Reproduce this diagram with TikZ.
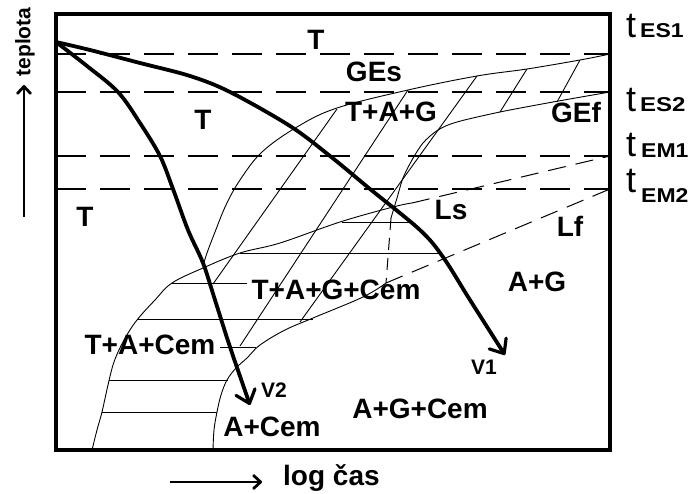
\documentclass[tikz,border=0pt]{standalone}
\usepackage{fontspec}
\usepackage{graphicx}
\setmainfont{Liberation Sans}
\usetikzlibrary{arrows.meta}
\begin{document}
\begin{tikzpicture}[x=1pt,y=-1pt,
  lbl/.style={font=\fontsize{28}{30}\selectfont\bfseries, inner sep=0pt},
  vlbl/.style={font=\fontsize{21}{23}\selectfont\bfseries, inner sep=0pt},
  tlbl/.style={font=\fontsize{36}{37}\selectfont, inner sep=0pt, anchor=base west},
  sublbl/.style={font=\fontsize{20}{22}\selectfont\bfseries, inner sep=0pt, anchor=base west},
  thinln/.style={line width=0.9pt},
  hdash/.style={line width=1.2pt, dash pattern=on 30pt off 14pt},
  sdash/.style={line width=1pt, dash pattern=on 18pt off 10pt},
  vdash/.style={line width=1pt, dash pattern=on 12pt off 8pt},
  heavy/.style={line width=3.8pt, line cap=round, line join=round,
    -{Straight Barb[length=12pt,width=20pt,line width=3.2pt,round]}},
  axarrow/.style={line width=2.8pt,
    -{Straight Barb[length=7pt,width=13pt,line width=2.8pt,round]}},
]
\useasboundingbox (0,0) rectangle (697,494);
\fill[white] (0,0) rectangle (697,494);

% temperature levels (dashed)
\draw[hdash] (56,54) -- (610,54);
\draw[hdash] (56,92) -- (610,92);
\draw[hdash] (56,156) -- (610,156);
\draw[hdash] (56,189) -- (610,189);

% GEs curve
\draw[thinln] plot[smooth, tension=0.6] coordinates {(610,54) (580,60) (527,69) (477,76) (408,90) (337,108) (297,127) (262,152) (240,180) (226,205) (215,232) (207,253) (203,266)};
% GEf curve
\draw[thinln] plot[smooth, tension=0.5] coordinates {(610,92) (553,102) (500,112) (457,122) (438,130) (423,143) (412,160) (403,178) (397,198) (391,218)};
\draw[vdash] (391,218) -- (386,283);
% Ls curve
\draw[thinln] plot[smooth, tension=0.6] coordinates {(92,450) (97,430) (102,412) (108,385) (114,362) (124,340) (137,320) (155,300) (172,283) (203,268) (240,253) (280,243) (340,222) (393,207) (412,203)};
\draw[sdash] (412,203) -- (610,156);
% Lf curve
\draw[thinln] plot[smooth, tension=0.6] coordinates {(213,450) (214,430) (217,412) (221,395) (227,380) (236,368) (247,358) (260,345) (285,330) (313,318) (363,297) (386,283)};
\draw[sdash] (386,283) -- (610,189);

% diagonal hatching
\draw[thinln] (580,60) -- (557,102);
\draw[thinln] (527,69) -- (500,112);
\draw[thinln] (477,76) -- (300,322);
\draw[thinln] (408,90) -- (240,346);
\draw[thinln] (337,109) -- (213,284);

% horizontal hatching
\draw[thinln] (342,222) -- (411,222);
\draw[thinln] (240,253) -- (441,253);
\draw[thinln] (172,283) -- (247,283);
\draw[thinln] (137,319) -- (313,319);
\draw[thinln] (220,347) -- (256,347);
\draw[thinln] (109,380) -- (228,380);
\draw[thinln] (102,412) -- (217,412);

% cooling curves
\draw[heavy] plot[smooth, tension=0.55] coordinates {(56,42) (90,50) (140,63) (190,76) (230,92) (290,126) (330,156) (370,189) (420,230) (443,257) (470,300) (505,355)};
\draw[heavy] plot[smooth, tension=0.55] coordinates {(56,42) (87,66) (118,92) (140,123) (160,156) (173,189) (188,230) (203,263) (215,300) (230,347) (250,405)};

% frame
\draw[line width=3.8pt] (56,14) rectangle (610,450);

% region labels
\node[lbl] (T1) at (316,40) {T};
\node[lbl] (GEs) at (374,72) {GEs};
\node[lbl] (T2) at (203,120) {T};
\node[lbl] (TAG) at (391,112) {T+A+G};
\node[lbl] (GEf) at (576,112) {GEf};
\node[lbl] (T3) at (85,217) {T};
\node[lbl] (Ls) at (451,210) {Ls};
\node[lbl] (Lf) at (570,226) {Lf};
\node[lbl] (AG) at (537,282) {A+G};
\node[lbl] (TAGC) at (336,290) {T+A+G+Cem};
\node[lbl] (TAC) at (150,345) {T+A+Cem};
\node[lbl] (AC) at (272,427) {A+Cem};
\node[lbl] (AGC) at (420,409) {A+G+Cem};
\node[vlbl] (V1) at (484,367) {V1};
\node[vlbl] (V2) at (274,390) {V2};

% temperature names
\node[tlbl] (t1) at (626,38) {t};
\node[sublbl] (s1) at (640,38) {\scalebox{1.15}[1]{ES1}};
\node[tlbl] (t2) at (626,112) {t};
\node[sublbl] (s2) at (640,112) {\scalebox{1.2}[1]{ES2}};
\node[tlbl] (t3) at (626,157) {t};
\node[sublbl] (s3) at (641,158) {\scalebox{1.15}[1]{EM1}};
\node[tlbl] (t4) at (626,193) {t};
\node[sublbl] (s4) at (641,203) {\scalebox{1.15}[1]{EM2}};

% axes
\coordinate (ya) at (24,217);
\coordinate (yb) at (24,85);
\draw[axarrow] (ya) -- (yb);
\node[font=\fontsize{21}{22}\selectfont\bfseries, rotate=90, inner sep=0pt] (temp) at (25,42) {teplota};
\coordinate (xa) at (170,482);
\coordinate (xb) at (262,482);
\draw[axarrow] (xa) -- (xb);
\node[font=\fontsize{28}{29}\selectfont\bfseries, inner sep=0pt, anchor=base west] (cas) at (283,486) {log čas};
\end{tikzpicture}
\end{document}
